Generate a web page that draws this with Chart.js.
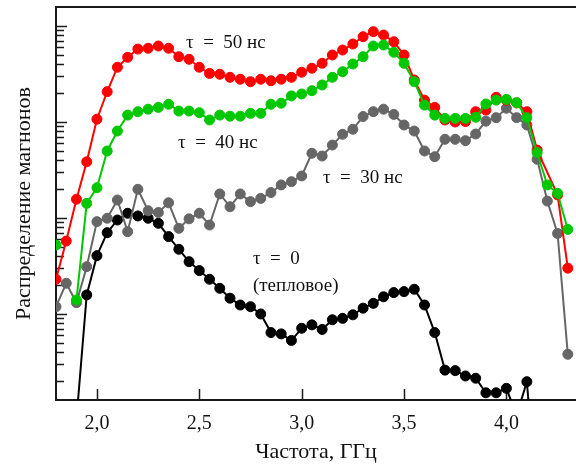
<!DOCTYPE html>
<html>
<head>
<meta charset="utf-8">
<script src="https://cdn.jsdelivr.net/npm/chart.js@4.4.1/dist/chart.umd.min.js"></script>
<style>
  html, body { margin: 0; padding: 0; background: #fff; overflow: hidden; }
  #wrap { width: 576px; height: 466px; }
</style>
</head>
<body>
<div id="wrap"><canvas id="chart" width="576" height="466"></canvas></div>
<script>
// ========================
// DATA
// ========================
// frequency, GHz
const freq = [1.80, 1.85, 1.90, 1.95, 2.00, 2.05, 2.10, 2.15, 2.20, 2.25,
              2.30, 2.35, 2.40, 2.45, 2.50, 2.55, 2.60, 2.65, 2.70, 2.75,
              2.80, 2.85, 2.90, 2.95, 3.00, 3.05, 3.10, 3.15, 3.20, 3.25,
              3.30, 3.35, 3.40, 3.45, 3.50, 3.55, 3.60, 3.65, 3.70, 3.75,
              3.80, 3.85, 3.90, 3.95, 4.00, 4.05, 4.10, 4.15, 4.20, 4.25, 4.30];

// magnon distribution, arbitrary units (log axis)
const tau50 = [2.3, 5.75, 15.7, 38.5, 107, 207, 372, 472, 575, 586,
               619, 586, 479, 450, 372, 321, 314, 292, 279, 263,
               279, 269, 279, 292, 330, 363, 409, 499, 562, 649,
               774, 873, 806, 686, 499, 274, 169, 142, 105, 100,
               101, 128, 133, 181, 169, 158, 128, 51, null, 17.4, 3.0];

const tau40 = [5.23, null, 1.40, 14.2, 20.7, 49.9, 80.5, 118, 128, 136,
               142, 153, 130, 130, 125, 105, 118, 115, 115, 123,
               123, 153, 157, 187, 196, 212, 243, 292, 334, 402,
               479, 619, 634, 532, 409, 263, 150, 118, 109, 109,
               109, 112, 154, 169, 172, 159, 111, 47.9, 22.1, 18.1, 7.6];

const tau30 = [1.19, 2.09, 1.31, 3.11, 9.16, 9.93, 15.4, 7.2, 19.9, 11.9,
               11.4, 14.4, 7.8, 9.8, 11.2, 8.45, 17.8, 13.1, 17.8, 14.8,
               16.0, 18.4, 22.1, 23.9, 27.4, 47.2, 44.2, 57.5, 74.5, 84,
               114, 128, 136, 120, 93, 80.5, 49.9, 43.5, 66, 66,
               63.9, 75, 102, 111, 139, 111, 93, 40.9, 15, 6.9, 0.38];

const tau0 = [null, null, 0.08, 1.58, 4.05, 7.03, 9.53, 11.2, 10.5, 9.93,
              8.8, 6.4, 4.72, 3.51, 2.83, 2.30, 1.85, 1.46, 1.24, 1.19,
              1.0, 0.64, 0.62, 0.53, 0.71, 0.77, 0.69, 0.87, 0.90, 0.98,
              1.15, 1.29, 1.51, 1.67, 1.71, 1.81, 1.24, 0.64, 0.26, 0.257,
              0.226, 0.214, 0.151, 0.151, 0.168, 0.088, 0.197, 0.01, null, null, null];

// x tick labels
const xTickValues = [2.0, 2.5, 3.0, 3.5, 4.0];

// curve labels (data coordinates: GHz, value at text baseline)
const labelText = ["τ\u2002=\u200250 нс", "τ\u2002=\u200240 нс", "τ\u2002=\u200230 нс", "τ\u2002=\u20020", "(тепловое)"];
const labelX = [2.435, 2.396, 3.104, 2.762, 2.762];
const labelY = [590, 53.2, 23.3, 3.32, 1.75];

// ========================
// Helpers
// ========================
const SERIF = '"Liberation Serif", "Times New Roman", serif';

function toPoints(values) {
  return freq.map((f, i) => ({ x: f, y: values[i] }));
}

function series(values, color, order, extra) {
  return Object.assign({
    data: toPoints(values),
    borderColor: color,
    backgroundColor: color,
    pointBackgroundColor: color,
    pointBorderColor: color,
    borderWidth: 2,
    pointRadius: 5,
    pointBorderWidth: 1,
    tension: 0,
    order
  }, extra || {});
}

// frame + inward ticks + curve labels
const frameTicks = {
  id: "frameTicks",
  beforeDatasetsDraw(chart) {
    const { ctx, chartArea: a, scales: { x, y } } = chart;
    ctx.save();
    ctx.strokeStyle = "#1a1a1a";
    ctx.lineWidth = 1.5;
    ctx.beginPath();
    for (const v of xTickValues) {
      const px = Math.round(x.getPixelForValue(v)) + 0.5;
      ctx.moveTo(px, a.bottom);
      ctx.lineTo(px, a.bottom - 11);
    }
    for (let k = -1; k <= 3; k++) {
      for (let m = 1; m <= 9; m++) {
        const v = m * Math.pow(10, k);
        if (v < y.min || v > y.max) continue;
        const py = Math.round(y.getPixelForValue(v)) + 0.5;
        ctx.moveTo(a.left, py);
        ctx.lineTo(a.left + (m === 1 ? 11 : 8), py);
      }
    }
    ctx.stroke();

    ctx.lineWidth = 2;
    ctx.beginPath();
    ctx.moveTo(a.right, a.top);
    ctx.lineTo(a.left, a.top);
    ctx.lineTo(a.left, a.bottom);
    ctx.lineTo(a.right, a.bottom);
    ctx.stroke();
    ctx.restore();
  },
  afterDatasetsDraw(chart) {
    const { ctx, scales: { x, y } } = chart;
    ctx.save();
    ctx.fillStyle = "#111";
    ctx.font = "19px " + SERIF;
    ctx.textAlign = "left";
    ctx.textBaseline = "alphabetic";
    labelText.forEach((t, i) => {
      ctx.fillText(t, x.getPixelForValue(labelX[i]), y.getPixelForValue(labelY[i]));
    });
    ctx.restore();
  }
};

// ========================
// Chart.js
// ========================
const ctx = document.getElementById("chart").getContext("2d");

new Chart(ctx, {
  type: "line",
  data: {
    datasets: [
      series(tau40, "#00c800", 1, { spanGaps: false }),
      series(tau50, "#ff0000", 2, { spanGaps: true }),
      series(tau30, "#666666", 3),
      series(tau0, "#000000", 4, { clip: { left: 10, top: 10, right: 10, bottom: 0 } })
    ]
  },
  options: {
    responsive: false,
    animation: false,
    devicePixelRatio: 1,
    layout: { autoPadding: false, padding: { top: 7, right: 0, bottom: 0, left: 0 } },
    plugins: { legend: { display: false }, tooltip: { enabled: false } },
    scales: {
      x: {
        type: "linear",
        min: 1.8,
        max: 4.34,
        grid: { display: false },
        border: { display: false },
        afterBuildTicks: (scale) => { scale.ticks = xTickValues.map(v => ({ value: v })); },
        afterFit: (scale) => { scale.height = 66; },
        ticks: {
          padding: 4,
          maxRotation: 0,
          color: "#111",
          font: { family: SERIF, size: 20 },
          callback: (v) => Number(v).toFixed(1).replace(".", ",")
        },
        title: {
          display: true,
          text: "Частота, ГГц",
          color: "#111",
          font: { family: SERIF, size: 22, lineHeight: 1 },
          padding: { top: 0, bottom: 3 }
        }
      },
      y: {
        type: "logarithmic",
        min: 0.127,
        max: 1578,
        grid: { display: false },
        border: { display: false },
        ticks: { display: false },
        afterFit: (scale) => { scale.width = 56; },
        title: {
          display: true,
          text: "Распределение магнонов",
          color: "#111",
          font: { family: SERIF, size: 22, lineHeight: 1 },
          padding: { top: 13, bottom: 0 }
        }
      }
    }
  },
  plugins: [frameTicks]
});
</script>
</body>
</html>
